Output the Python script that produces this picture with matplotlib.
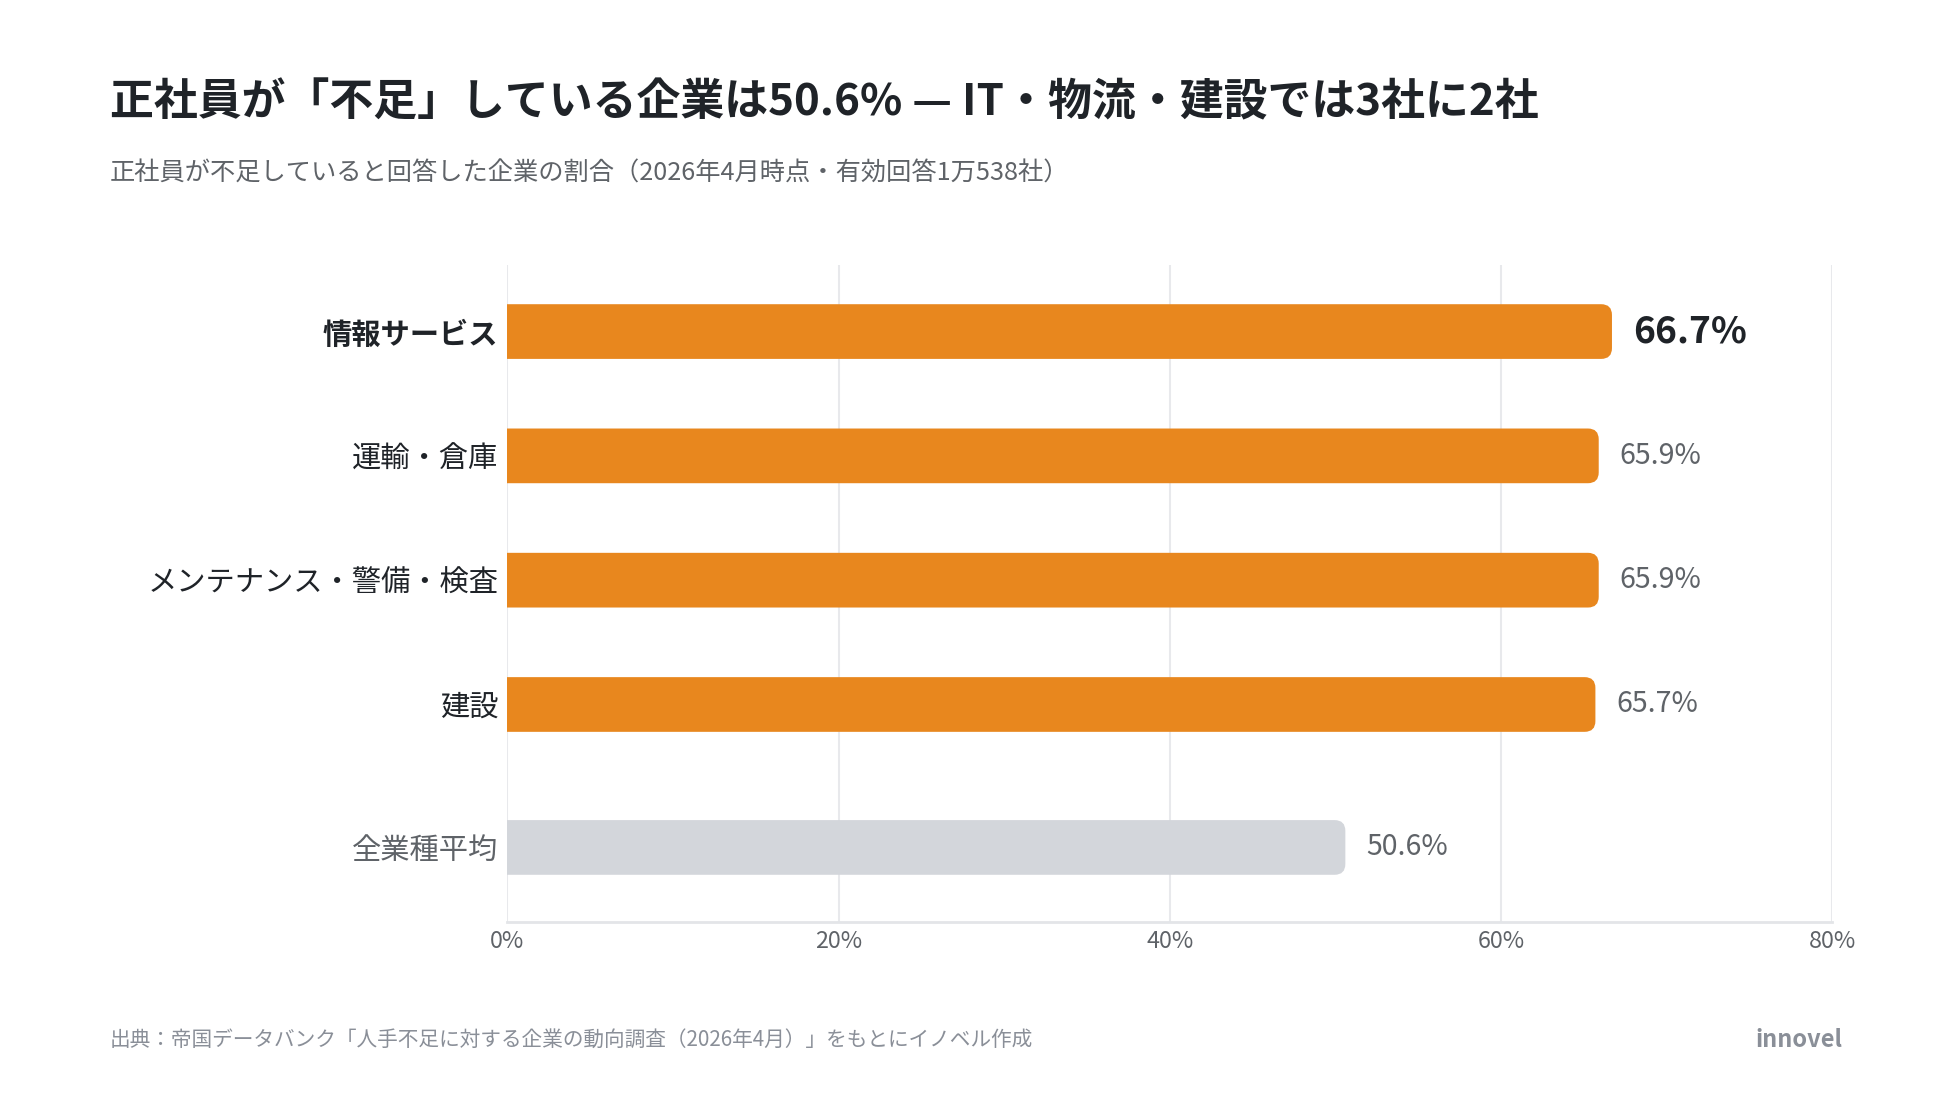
import matplotlib
matplotlib.use("Agg")
import matplotlib.pyplot as plt
from matplotlib.patches import FancyBboxPatch
from matplotlib.ticker import FuncFormatter

plt.rcParams['font.family'] = ['Noto Sans CJK JP', 'DejaVu Sans']

# データ
categories = ["情報サービス", "運輸・倉庫", "メンテナンス・警備・検査", "建設", "全業種平均"]
values = [66.7, 65.9, 65.9, 65.7, 50.6]
positions = [0, 1, 2, 3, 4.15]
x_ticks = [0, 20, 40, 60, 80]

title = "正社員が「不足」している企業は50.6% — IT・物流・建設では3社に2社"
subtitle = "正社員が不足していると回答した企業の割合（2026年4月時点・有効回答1万538社）"
source = "出典：帝国データバンク「人手不足に対する企業の動向調査（2026年4月）」をもとにイノベル作成"
brand = "innovel"

orange = "#E8871E"
grey_bar = "#D3D6DB"
dark = "#1F2328"
mid = "#5F6368"

fig = plt.figure(figsize=(19.5, 10.97), dpi=100)
ax = fig.add_axes([0.2602, 0.1595, 0.6794, 0.5990])

colors = [orange] * 4 + [grey_bar]
bars = ax.barh(positions, values, height=0.44, color=colors)

# 右端だけ角丸にする
for rect, c in zip(bars, colors):
    x0, y0 = rect.get_x(), rect.get_y()
    w, h = rect.get_width(), rect.get_height()
    rect.remove()
    p = FancyBboxPatch((x0 - 2, y0), w + 2, h,
                       boxstyle="round,pad=0,rounding_size=0.65",
                       mutation_aspect=0.133, facecolor=c, edgecolor="none",
                       zorder=3)
    ax.add_patch(p)

ax.set_xlim(0, 80)
ax.set_ylim(4.75, -0.536)
ax.set_xticks(x_ticks)
ax.xaxis.set_major_formatter(FuncFormatter(lambda v, _: f"{v:.0f}%"))
ax.tick_params(axis='x', length=0, pad=6, labelsize=16.8, labelcolor=mid)
ax.set_yticks(positions)
ax.set_yticklabels(categories)
ax.tick_params(axis='y', length=0, pad=6.5, labelsize=21.1)
for i, lab in enumerate(ax.get_yticklabels()):
    if i == 0:
        lab.set_fontweight('bold')
        lab.set_color(dark)
    elif i == len(categories) - 1:
        lab.set_color(mid)
    else:
        lab.set_color(dark)

ax.grid(axis='x', color="#E8E9EC", linewidth=1.5, zorder=0)
ax.set_axisbelow(True)
for s in ["top", "right", "left"]:
    ax.spines[s].set_visible(False)
ax.spines["bottom"].set_color("#E3E5E8")
ax.spines["bottom"].set_linewidth(2)

# 値ラベル
for i, (pos, v) in enumerate(zip(positions, values)):
    if i == 0:
        ax.annotate(f"{v}%", (v, pos), xytext=(15, 0), textcoords="offset points",
                    va="center", ha="left", fontsize=26.8, fontweight="bold", color=dark)
    else:
        ax.annotate(f"{v}%", (v, pos), xytext=(15, 0), textcoords="offset points",
                    va="center", ha="left", fontsize=20.6, color=mid)

fig.text(110 / 1950, 1 - 102.5 / 1097, title, fontsize=31.6, fontweight="bold",
         color=dark, va="center", ha="left")
fig.text(110 / 1950, 1 - 173.5 / 1097, subtitle, fontsize=18.2, color=mid,
         va="center", ha="left")
fig.text(110 / 1950, 1 - 1040 / 1097, source, fontsize=14.9, color="#8A8F98",
         va="center", ha="left")
fig.text(1842 / 1950, 1 - 1040 / 1097, brand, fontsize=17, fontweight="bold",
         color="#8A8F98", va="center", ha="right")

fig.savefig("out.png", dpi=100, facecolor="white")
